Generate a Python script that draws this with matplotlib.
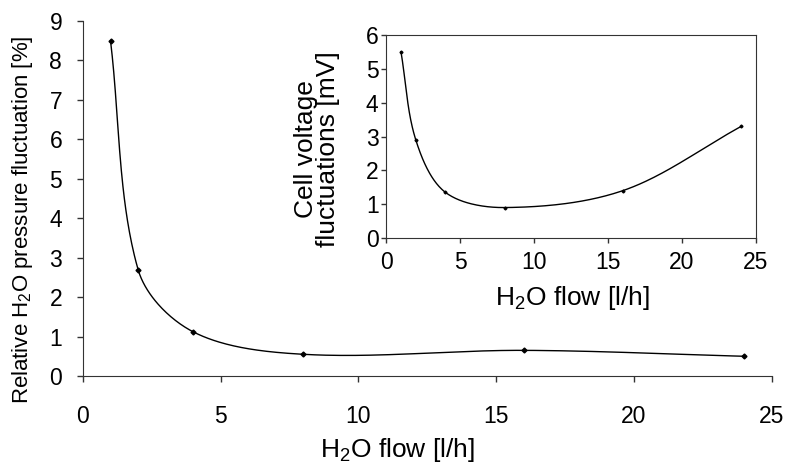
import numpy as np
import matplotlib
matplotlib.use("Agg")
import matplotlib.pyplot as plt

plt.rcParams['font.family'] = ['Liberation Sans', 'DejaVu Sans']
plt.rcParams['mathtext.fontset'] = 'custom'
plt.rcParams['mathtext.rm'] = 'Liberation Sans'
plt.rcParams['mathtext.it'] = 'Liberation Sans:italic'

# water flow settings [l/h]
flow = [1, 2, 4, 8, 16, 24]
# relative H2O pressure fluctuation [%]
pressure_fluct = [8.5, 2.7, 1.12, 0.55, 0.65, 0.5]
# cell voltage fluctuations [mV]
voltage_fluct = [5.5, 2.9, 1.35, 0.9, 1.4, 3.3]


def smooth(x, y, xscale, yscale, n=60):
    # cubic Bezier pieces through the points, handles weighted by chord length
    px = np.asarray(x, float) * xscale
    py = np.asarray(y, float) * yscale
    P = np.column_stack([px, py])
    P = np.vstack([P[0], P, P[-1]])
    out = []
    t = np.linspace(0, 1, n)[:, None]
    for i in range(1, len(P) - 2):
        p0, p1, p2, p3 = P[i - 1], P[i], P[i + 1], P[i + 2]
        d01 = np.linalg.norm(p1 - p0)
        d12 = np.linalg.norm(p2 - p1)
        d23 = np.linalg.norm(p3 - p2)
        c1 = p1 + (p2 - p0) * d12 / (d01 + d12) / 3
        c2 = p2 - (p3 - p1) * d12 / (d12 + d23) / 3
        seg = ((1 - t) ** 3) * p1 + 3 * ((1 - t) ** 2) * t * c1 \
            + 3 * (1 - t) * t ** 2 * c2 + t ** 3 * p2
        out.append(seg)
    out = np.vstack(out)
    return out[:, 0] / xscale, out[:, 1] / yscale


fig = plt.figure(figsize=(7.85, 4.68), dpi=100)

# main chart: pressure fluctuation
ax = fig.add_axes([0.1057, 0.1966, 0.8773, 0.7584])
sx, sy = smooth(flow, pressure_fluct, 689 / 25, 355 / 9)
ax.plot(sx, sy, color='black', lw=1.0)
ax.plot(flow, pressure_fluct, 'D', color='black', ms=2.5)
ax.set_xlim(0, 25)
ax.set_ylim(0, 9)
ax.set_xticks(range(0, 26, 5))
ax.set_yticks(range(0, 10))
ax.spines['top'].set_visible(False)
ax.spines['right'].set_visible(False)
for s in ['left', 'bottom']:
    ax.spines[s].set_color('#333333')
ax.tick_params(direction='out', length=4, width=1, color='#333333',
               labelsize=16.5)
ax.tick_params(axis='x', pad=17)
ax.tick_params(axis='y', pad=11)
ax.set_xlabel('H$_2$O flow [l/h]', fontsize=19, va='center')
ax.xaxis.set_label_coords(0.456, -0.208)
ax.set_ylabel('Relative H$_2$O pressure fluctuation [%]', fontsize=16,
              va='center')
ax.yaxis.set_label_coords(-0.088, 0.439)

# inset: cell voltage fluctuations
ins = fig.add_axes([0.492, 0.4915, 0.471, 0.4335])
ix, iy = smooth(flow, voltage_fluct, 370 / 25, 203 / 6)
ins.plot(ix, iy, color='black', lw=1.0)
ins.plot(flow, voltage_fluct, 'D', color='black', ms=1.5)
ins.set_xlim(0, 25)
ins.set_ylim(0, 6)
ins.set_xticks(range(0, 26, 5))
ins.set_yticks(range(0, 7))
for s in ins.spines.values():
    s.set_color('#333333')
ins.tick_params(direction='out', length=3.5, width=1, color='#333333',
                labelsize=16.5)
ins.tick_params(axis='x', pad=6)
ins.tick_params(axis='y', pad=2)
ins.set_xlabel('H$_2$O flow [l/h]', fontsize=19, va='center')
ins.xaxis.set_label_coords(0.505, -0.296)
ins.set_ylabel('Cell voltage\nfluctuations [mV]', fontsize=19,
               va='center', linespacing=0.9)
ins.yaxis.set_label_coords(-0.186, 0.438)

fig.savefig('out.png', dpi=100)
